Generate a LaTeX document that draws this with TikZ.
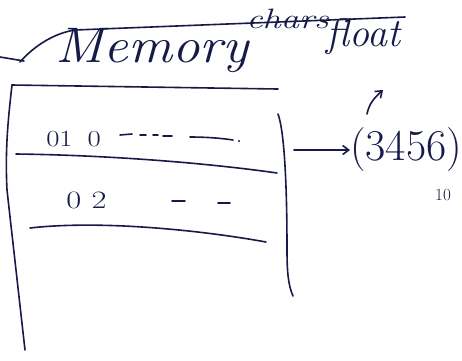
\documentclass[tikz,border=0pt]{standalone}
\usetikzlibrary{arrows.meta}
\definecolor{ink}{RGB}{22,26,72}
\tikzset{
  pen/.style={draw=ink, line width=1.6pt, line cap=round, line join=round},
  hand/.style={text=ink, inner sep=0pt, font=\itshape},
  arr/.style={pen, -{Straight Barb[length=6pt,width=9pt]}}
}
\begin{document}
\begin{tikzpicture}[x=1pt,y=-1pt]
\useasboundingbox (0,0) rectangle (462,360);
\fill[white] (0,0) rectangle (462,360);
% header stroke
\draw[pen] (0,57) -- (24,61);
\draw[pen] (20,62) .. controls (35,45) and (55,33) .. (75,30) -- (405,17);
% texts
\node[hand, font=\fontsize{50}{54}\selectfont\itshape, anchor=base west, xscale=1.1] (mem) at (55,62) {Memory};
\node[hand, font=\fontsize{28}{30}\selectfont\itshape, anchor=base west, xscale=1.3] (chars) at (246,28) {chars};
\node[hand, font=\fontsize{40}{44}\selectfont\itshape, anchor=base west] (flt) at (326,46) {float};
% memory box
\coordinate (tl) at (12,85);
\coordinate (tr) at (278,89);
\coordinate (bl) at (25,350);
\draw[pen] (tl) -- (tr);
\draw[pen] (tl) .. controls (8,120) and (5,150) .. (7,190) -- (bl);
\coordinate (rtop) at (278,114);
\coordinate (rbot) at (293,296);
\draw[pen] (rtop) .. controls (284,130) and (287,180) .. (287,250) .. controls (287,270) and (288,285) .. (rbot);
% row 1
\node[hand, font=\fontsize{23}{26}\selectfont, anchor=base west, xscale=1.25] (r1) at (46,146) {01\hspace{12pt}0};
\draw[pen] (120,135) -- (132,134);
\draw[pen] (140,135) -- (146,135);
\draw[pen] (153,135) -- (158,135);
\draw[pen] (163,136) -- (172,136);
\draw[pen] (190,137) .. controls (205,137) and (220,138) .. (233,140);
\fill[ink] (239,141) circle (1.2pt);
\draw[pen] (16,154) .. controls (100,155) and (200,162) .. (277,173);
% row 2
\node[hand, font=\fontsize{25}{28}\selectfont, anchor=base west, xscale=1.3] (r2) at (66,208) {0\hspace{8pt}2};
\draw[pen] (172,201) -- (185,201);
\draw[pen] (218,203) -- (230,203);
\draw[pen] (30,228) .. controls (100,220) and (200,230) .. (266,242);
% right side
\coordinate (bx) at (294,150);
\node[hand, font=\fontsize{44}{48}\selectfont, anchor=base west] (val) at (350,160) {(3456)};
\node[hand, font=\fontsize{17}{20}\selectfont, anchor=base west] (ten) at (435,200) {10};
\draw[arr] (bx) -- (val.west |- bx);
\coordinate (up) at (367,114);
\draw[arr] (up) .. controls (369,104) and (374,98) .. (383,90);
\end{tikzpicture}
\end{document}
